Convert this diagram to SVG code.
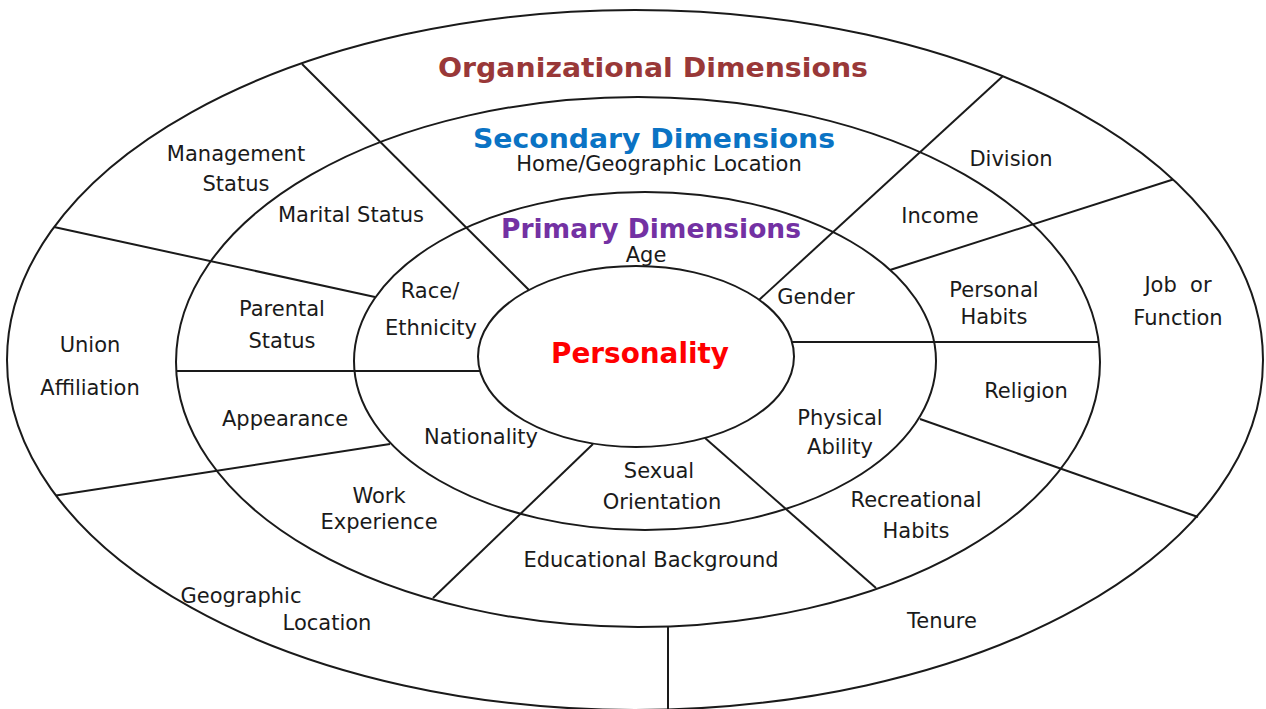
<svg xmlns="http://www.w3.org/2000/svg" width="1266" height="709" viewBox="0 0 1266 709">
  <style>
    .ring { fill: none; stroke: #1a1a1a; stroke-width: 2; }
    .divider { stroke: #1a1a1a; stroke-width: 2; fill: none; }
    .lbl { font-family: "DejaVu Sans", "Verdana", sans-serif; font-size: 21px; fill: #1a1a1a; text-anchor: middle; }
    .title { font-family: "DejaVu Sans", "Verdana", sans-serif; font-weight: bold; font-size: 27px; text-anchor: middle; }
  </style>
  <rect width="1266" height="709" fill="#ffffff"/>

  <!-- concentric rings -->
  <g id="ring-organizational">
    <ellipse class="ring" cx="635" cy="360" rx="628" ry="350"/>
    <text class="title" x="653" y="77" fill="#993838" textLength="430" lengthAdjust="spacingAndGlyphs">Organizational Dimensions</text>
  </g>
  <g id="ring-secondary">
    <ellipse class="ring" cx="638" cy="362" rx="462" ry="265"/>
    <text class="title" x="654" y="148" fill="#0a73c4" textLength="362" lengthAdjust="spacingAndGlyphs">Secondary Dimensions</text>
  </g>
  <g id="ring-primary">
    <ellipse class="ring" cx="645" cy="361" rx="291" ry="169"/>
    <text class="title" x="651" y="238" fill="#7331a3" textLength="300" lengthAdjust="spacingAndGlyphs">Primary Dimensions</text>
  </g>
  <g id="core-personality">
    <ellipse class="ring" cx="636" cy="356.5" rx="158" ry="90.5"/>
    <text class="title" x="640" y="363" fill="#ff0000" style="font-size:28px" textLength="178" lengthAdjust="spacingAndGlyphs">Personality</text>
  </g>

  <!-- sector dividers -->
  <g id="dividers">
    <line class="divider" x1="302" y1="64" x2="529" y2="290"/>
    <line class="divider" x1="54" y1="227" x2="375" y2="297"/>
    <line class="divider" x1="176" y1="371" x2="480" y2="371"/>
    <line class="divider" x1="56" y1="495.5" x2="390" y2="444"/>
    <line class="divider" x1="593" y1="444" x2="433" y2="598"/>
    <line class="divider" x1="668" y1="626.5" x2="668" y2="709"/>
    <line class="divider" x1="705" y1="438" x2="876" y2="588"/>
    <line class="divider" x1="920" y1="419" x2="1198" y2="517"/>
    <line class="divider" x1="792" y1="342" x2="1099" y2="342"/>
    <line class="divider" x1="890" y1="270" x2="1173" y2="179.5"/>
    <line class="divider" x1="759" y1="300" x2="1003" y2="76"/>
  </g>

  <!-- organizational dimensions -->
  <g id="management-status"><text class="lbl" x="236" y="161">Management</text><text class="lbl" x="236" y="191">Status</text></g>
  <g id="division"><text class="lbl" x="1011" y="166">Division</text></g>
  <g id="job-function"><text class="lbl" x="1178" y="292" xml:space="preserve">Job  or</text><text class="lbl" x="1178" y="325">Function</text></g>
  <g id="union-affiliation"><text class="lbl" x="90" y="352">Union</text><text class="lbl" x="90" y="395">Affiliation</text></g>
  <g id="geographic-location"><text class="lbl" x="241" y="603">Geographic</text><text class="lbl" x="327" y="630">Location</text></g>
  <g id="tenure"><text class="lbl" x="942" y="628">Tenure</text></g>

  <!-- secondary dimensions -->
  <g id="home-location"><text class="lbl" x="659" y="171">Home/Geographic Location</text></g>
  <g id="marital-status"><text class="lbl" x="351" y="222">Marital Status</text></g>
  <g id="income"><text class="lbl" x="940" y="223">Income</text></g>
  <g id="personal-habits"><text class="lbl" x="994" y="297">Personal</text><text class="lbl" x="994" y="324">Habits</text></g>
  <g id="parental-status"><text class="lbl" x="282" y="316">Parental</text><text class="lbl" x="282" y="348">Status</text></g>
  <g id="religion"><text class="lbl" x="1026" y="398">Religion</text></g>
  <g id="appearance"><text class="lbl" x="285" y="426">Appearance</text></g>
  <g id="work-experience"><text class="lbl" x="379" y="503">Work</text><text class="lbl" x="379" y="529">Experience</text></g>
  <g id="recreational-habits"><text class="lbl" x="916" y="507">Recreational</text><text class="lbl" x="916" y="538">Habits</text></g>
  <g id="educational-background"><text class="lbl" x="651" y="567">Educational Background</text></g>

  <!-- primary dimensions -->
  <g id="age"><text class="lbl" x="646" y="262">Age</text></g>
  <g id="gender"><text class="lbl" x="816" y="304">Gender</text></g>
  <g id="race-ethnicity"><text class="lbl" x="430" y="298">Race/</text><text class="lbl" x="431" y="335">Ethnicity</text></g>
  <g id="nationality"><text class="lbl" x="481" y="444">Nationality</text></g>
  <g id="physical-ability"><text class="lbl" x="840" y="425">Physical</text><text class="lbl" x="840" y="454">Ability</text></g>
  <g id="sexual-orientation"><text class="lbl" x="659" y="478">Sexual</text><text class="lbl" x="662" y="509">Orientation</text></g>
</svg>
